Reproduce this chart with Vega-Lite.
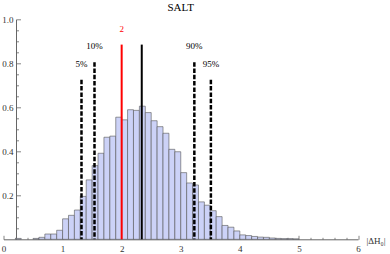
{
  "$schema": "https://vega.github.io/schema/vega-lite/v6.json",
  "width": 354.5,
  "height": 220,
  "autosize": {"type": "none"},
  "padding": {"left": 3.5, "top": 19.3, "right": 32, "bottom": 14.7},
  "background": "white",
  "config": {"view": {"stroke": null}},
  "title": {"text": "SALT", "font": "Liberation Serif", "fontSize": 11, "fontWeight": "normal", "color": "black", "offset": 2, "anchor": "middle"},
  "resolve": {"axis": {"x": "independent", "y": "independent"}},
  "datasets": {
    "hist": [
      {"start": 0.2, "end": 0.3, "density": 0.004},
      {"start": 0.5, "end": 0.6, "density": 0.004},
      {"start": 0.6, "end": 0.7, "density": 0.009},
      {"start": 0.7, "end": 0.8, "density": 0.024},
      {"start": 0.8, "end": 0.9, "density": 0.024},
      {"start": 0.9, "end": 1.0, "density": 0.041},
      {"start": 1.0, "end": 1.1, "density": 0.093},
      {"start": 1.1, "end": 1.2, "density": 0.109},
      {"start": 1.2, "end": 1.3, "density": 0.133},
      {"start": 1.3, "end": 1.4, "density": 0.195},
      {"start": 1.4, "end": 1.5, "density": 0.27},
      {"start": 1.5, "end": 1.6, "density": 0.335},
      {"start": 1.6, "end": 1.7, "density": 0.391},
      {"start": 1.7, "end": 1.8, "density": 0.464},
      {"start": 1.8, "end": 1.9, "density": 0.469},
      {"start": 1.9, "end": 2.0, "density": 0.555},
      {"start": 2.0, "end": 2.1, "density": 0.543},
      {"start": 2.1, "end": 2.2, "density": 0.589},
      {"start": 2.2, "end": 2.3, "density": 0.586},
      {"start": 2.3, "end": 2.4, "density": 0.605},
      {"start": 2.4, "end": 2.5, "density": 0.576},
      {"start": 2.5, "end": 2.6, "density": 0.539},
      {"start": 2.6, "end": 2.7, "density": 0.512},
      {"start": 2.7, "end": 2.8, "density": 0.482},
      {"start": 2.8, "end": 2.9, "density": 0.409},
      {"start": 2.9, "end": 3.0, "density": 0.398},
      {"start": 3.0, "end": 3.1, "density": 0.303},
      {"start": 3.1, "end": 3.2, "density": 0.256},
      {"start": 3.2, "end": 3.3, "density": 0.247},
      {"start": 3.3, "end": 3.4, "density": 0.17},
      {"start": 3.4, "end": 3.5, "density": 0.155},
      {"start": 3.5, "end": 3.6, "density": 0.13},
      {"start": 3.6, "end": 3.7, "density": 0.103},
      {"start": 3.7, "end": 3.8, "density": 0.063},
      {"start": 3.8, "end": 3.9, "density": 0.055},
      {"start": 3.9, "end": 4.0, "density": 0.038},
      {"start": 4.0, "end": 4.1, "density": 0.02},
      {"start": 4.1, "end": 4.2, "density": 0.017},
      {"start": 4.2, "end": 4.3, "density": 0.013},
      {"start": 4.3, "end": 4.4, "density": 0.01},
      {"start": 4.4, "end": 4.5, "density": 0.009},
      {"start": 4.5, "end": 4.6, "density": 0.006},
      {"start": 4.6, "end": 4.7, "density": 0.004},
      {"start": 4.7, "end": 4.8, "density": 0.003},
      {"start": 4.8, "end": 4.9, "density": 0.003},
      {"start": 4.9, "end": 5.0, "density": 0.002}
    ],
    "lines": [
      {"kind": "pct", "x": 1.32, "top": 0.725, "label": "5%"},
      {"kind": "pct", "x": 1.54, "top": 0.805, "label": "10%"},
      {"kind": "obs", "x": 2.0, "top": 0.885, "label": "2"},
      {"kind": "mean", "x": 2.34, "top": 0.885, "label": ""},
      {"kind": "pct", "x": 3.23, "top": 0.805, "label": "90%"},
      {"kind": "pct", "x": 3.51, "top": 0.725, "label": "95%"}
    ]
  },
  "layer": [
    {
      "data": {"name": "hist"},
      "mark": {"type": "bar", "fill": "#ccd2f7", "stroke": "#555555", "strokeWidth": 0.8, "strokeOpacity": 0.75},
      "encoding": {
        "x": {
          "field": "start", "type": "quantitative",
          "scale": {"domain": [0, 6], "nice": false, "zero": false},
          "axis": {
            "orient": "bottom",
            "values": [0, 1, 2, 3, 4, 5, 6],
            "format": "d",
            "tickSize": -4,
            "labelPadding": 9,
            "labelFont": "Liberation Serif", "labelFontSize": 9, "labelColor": "#333333",
            "domainColor": "#666666", "tickColor": "#666666", "domainWidth": 1, "tickWidth": 0.8,
            "grid": false, "labelFlush": false, "labelOverlap": false,
            "title": "|ΔH₀|", "titleFont": "Liberation Serif", "titleFontSize": 9, "titleFontWeight": "normal", "titleColor": "#333333",
            "titleAnchor": "start", "titleAlign": "left", "titleBaseline": "middle", "titleAngle": 0,
            "titleX": 362.5, "titleY": 1
          }
        },
        "x2": {"field": "end"},
        "y": {
          "field": "density", "type": "quantitative",
          "scale": {"domain": [0, 1], "nice": false},
          "axis": {
            "orient": "left",
            "values": [0.2, 0.4, 0.6, 0.8, 1.0],
            "format": ".1f",
            "tickSize": -4.5,
            "labelPadding": 7.5,
            "offset": -12.5,
            "labelFont": "Liberation Serif", "labelFontSize": 9, "labelColor": "#333333",
            "domainColor": "#666666", "tickColor": "#666666", "domainWidth": 1, "tickWidth": 0.8,
            "grid": false, "labelFlush": false, "labelOverlap": false,
            "title": null
          }
        },
        "y2": {"datum": 0}
      }
    },
    {
      "data": {"name": "lines"},
      "transform": [{"filter": "datum.kind === 'pct'"}],
      "mark": {"type": "rule", "color": "black", "strokeWidth": 2.5, "strokeDash": [4.5, 1.8]},
      "encoding": {
        "x": {
          "field": "x", "type": "quantitative",
          "axis": {
            "orient": "bottom",
            "values": [0.2,0.4,0.6,0.8,1.2,1.4,1.6,1.8,2.2,2.4,2.6,2.8,3.2,3.4,3.6,3.8,4.2,4.4,4.6,4.8,5.2,5.4,5.6,5.8],
            "labels": false, "domain": false, "grid": false,
            "tickSize": -2, "tickColor": "#666666", "tickWidth": 0.8,
            "title": null
          }
        },
        "y": {
          "field": "top", "type": "quantitative",
          "axis": {
            "orient": "left",
            "values": [0.05,0.1,0.15,0.25,0.3,0.35,0.45,0.5,0.55,0.65,0.7,0.75,0.85,0.9,0.95],
            "offset": -12.5,
            "labels": false, "domain": false, "grid": false,
            "tickSize": -2.5, "tickColor": "#666666", "tickWidth": 0.8,
            "title": null
          }
        },
        "y2": {"datum": 0}
      }
    },
    {
      "data": {"name": "lines"},
      "transform": [{"filter": "datum.kind === 'mean'"}],
      "mark": {"type": "rule", "color": "black", "strokeWidth": 2},
      "encoding": {
        "x": {"field": "x", "type": "quantitative", "axis": null},
        "y": {"field": "top", "type": "quantitative", "axis": null},
        "y2": {"datum": 0}
      }
    },
    {
      "data": {"name": "lines"},
      "transform": [{"filter": "datum.kind === 'obs'"}],
      "mark": {"type": "rule", "color": "red", "strokeWidth": 2},
      "encoding": {
        "x": {"field": "x", "type": "quantitative", "axis": null},
        "y": {"field": "top", "type": "quantitative", "axis": null},
        "y2": {"datum": 0}
      }
    },
    {
      "data": {"name": "lines"},
      "transform": [{"filter": "datum.label !== ''"}],
      "mark": {"type": "text", "font": "Liberation Serif", "fontSize": 9, "baseline": "middle", "align": "center", "dy": -16},
      "encoding": {
        "x": {"field": "x", "type": "quantitative", "axis": null},
        "y": {"field": "top", "type": "quantitative", "axis": null},
        "text": {"field": "label"},
        "color": {"condition": {"test": "datum.kind === 'obs'", "value": "red"}, "value": "black"}
      }
    }
  ]
}
